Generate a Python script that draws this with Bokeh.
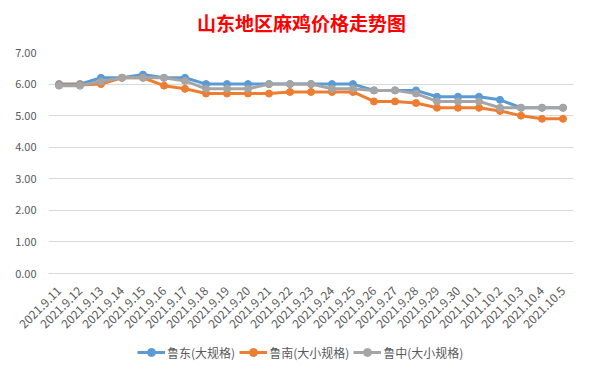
import math
from bokeh.plotting import figure
from bokeh.layouts import column
from bokeh.models import Legend, LegendItem, FixedTicker, NumeralTickFormatter, FactorRange, Range1d, Label
from bokeh.embed import file_html
from bokeh.resources import INLINE

dates = ["2021.9.11", "2021.9.12", "2021.9.13", "2021.9.14", "2021.9.15", "2021.9.16",
         "2021.9.17", "2021.9.18", "2021.9.19", "2021.9.20", "2021.9.21", "2021.9.22",
         "2021.9.23", "2021.9.24", "2021.9.25", "2021.9.26", "2021.9.27", "2021.9.28",
         "2021.9.29", "2021.9.30", "2021.10.1", "2021.10.2", "2021.10.3", "2021.10.4",
         "2021.10.5"]
ludong = [6.0, 6.0, 6.2, 6.2, 6.3, 6.2, 6.2, 6.0, 6.0, 6.0, 6.0, 6.0, 6.0,
          6.0, 6.0, 5.8, 5.8, 5.8, 5.6, 5.6, 5.6, 5.5, 5.25, 5.25, 5.25]
lunan = [5.97, 5.97, 6.0, 6.2, 6.2, 5.95, 5.85, 5.7, 5.7, 5.7, 5.7, 5.75, 5.75,
         5.75, 5.75, 5.45, 5.45, 5.4, 5.25, 5.25, 5.25, 5.15, 5.0, 4.9, 4.9]
luzhong = [5.95, 5.95, 6.08, 6.2, 6.2, 6.2, 6.1, 5.85, 5.85, 5.85, 6.0, 6.0, 6.0,
           5.85, 5.85, 5.8, 5.8, 5.7, 5.45, 5.45, 5.45, 5.25, 5.25, 5.25, 5.25]
series_names = ["鲁东(大规格)", "鲁南(大小规格)", "鲁中(大小规格)"]
y_ticks = [0, 1, 2, 3, 4, 5, 6, 7]
title_text = "山东地区麻鸡价格走势图"

FONT = "Noto Sans CJK SC"
TXT = "#595959"
colors = ["#5B9BD5", "#ED7D31", "#A5A5A5"]
series = [ludong, lunan, luzhong]

# title strip
pt = figure(width=583, height=40, x_range=Range1d(0, 583), y_range=Range1d(0, 40),
            output_backend="svg", toolbar_location=None, min_border=0,
            x_axis_location=None, y_axis_location=None)
pt.grid.visible = False
pt.outline_line_color = None
pt.add_layout(Label(x=281, y=18, text=title_text, text_align="center", text_baseline="middle",
                    text_color="#FF0000", text_font=FONT, text_font_size="19px",
                    text_font_style="bold"))

# main chart
p = figure(x_range=FactorRange(*dates), y_range=Range1d(0, 7),
           width=583, height=295, output_backend="svg", toolbar_location=None,
           min_border_left=48, min_border_right=10, min_border_top=12, min_border_bottom=61)

p.outline_line_color = None
p.background_fill_color = "white"
p.border_fill_color = "white"

p.xgrid.grid_line_color = None
p.ygrid.grid_line_color = "#D9D9D9"
p.ygrid.grid_line_width = 1

p.yaxis.ticker = FixedTicker(ticks=y_ticks)
p.yaxis.formatter = NumeralTickFormatter(format="0.00")
p.yaxis.axis_line_color = None
p.yaxis.major_tick_line_color = None
p.yaxis.minor_tick_line_color = None
p.yaxis.major_label_text_font = FONT
p.yaxis.major_label_text_font_size = "11px"
p.yaxis.major_label_text_color = TXT
p.yaxis.major_label_standoff = 6

p.xaxis.axis_line_color = "#D9D9D9"
p.xaxis.major_tick_line_color = None
p.xaxis.minor_tick_line_color = None
p.xaxis.major_tick_out = 0
p.xaxis.major_tick_in = 0
p.xaxis.major_label_orientation = math.pi / 4
p.xaxis.major_label_text_font = FONT
p.xaxis.major_label_text_font_size = "12px"
p.xaxis.major_label_text_color = TXT
p.xaxis.major_label_standoff = 15

for vals, c in zip(series, colors):
    p.line(dates, vals, line_width=3, color=c)
    p.scatter(dates, vals, size=7, color=c)

# legend strip below the chart (its own series lie outside the strip's visible range)
pl = figure(width=583, height=34, x_range=FactorRange(*dates), y_range=Range1d(-2, -1),
            output_backend="svg", toolbar_location=None, min_border=0,
            x_axis_location=None, y_axis_location=None)
pl.grid.visible = False
pl.outline_line_color = None
items = []
for name, vals, c in zip(series_names, series, colors):
    l = pl.line(dates, vals, line_width=3, color=c)
    s = pl.scatter(dates, vals, size=7, color=c)
    items.append(LegendItem(label=name, renderers=[l, s]))
legend = Legend(items=items, orientation="horizontal", location=(89, 7),
                label_text_font=FONT, label_text_font_size="12px", label_text_color=TXT,
                glyph_width=28, label_standoff=2, spacing=4, border_line_color=None,
                background_fill_alpha=0, padding=0, margin=0)
pl.add_layout(legend, "center")

layout = column(pt, p, pl, spacing=0)
open("out.html", "w").write(file_html(layout, INLINE))
